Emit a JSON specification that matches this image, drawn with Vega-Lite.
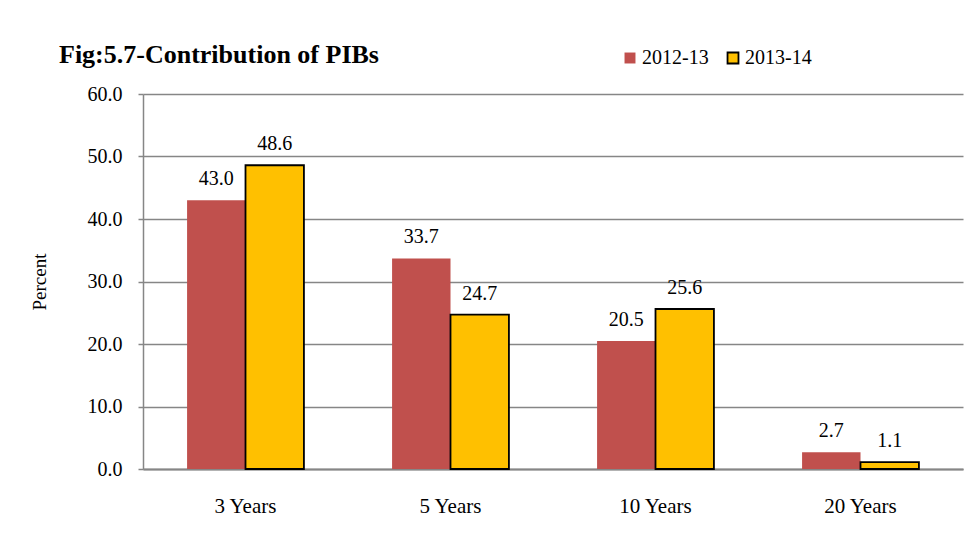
{
  "$schema": "https://vega.github.io/schema/vega-lite/v6.json",
  "autosize": {"type": "none"},
  "width": 820,
  "height": 375,
  "padding": {"left": 143, "top": 94, "right": 14, "bottom": 68},
  "background": "white",
  "title": {
    "text": "Fig:5.7-Contribution of PIBs",
    "anchor": "start",
    "frame": "group",
    "dx": -84,
    "dy": 50,
    "offset": 30,
    "font": "Liberation Serif",
    "fontSize": 26,
    "fontWeight": "bold",
    "color": "black"
  },
  "data": {
    "values": [
      {"tenure": "3 Years", "year": "2012-13", "value": 43.0},
      {"tenure": "3 Years", "year": "2013-14", "value": 48.6},
      {"tenure": "5 Years", "year": "2012-13", "value": 33.7},
      {"tenure": "5 Years", "year": "2013-14", "value": 24.7},
      {"tenure": "10 Years", "year": "2012-13", "value": 20.5},
      {"tenure": "10 Years", "year": "2013-14", "value": 25.6},
      {"tenure": "20 Years", "year": "2012-13", "value": 2.7},
      {"tenure": "20 Years", "year": "2013-14", "value": 1.1}
    ]
  },
  "encoding": {
    "x": {
      "field": "tenure",
      "type": "nominal",
      "sort": ["3 Years", "5 Years", "10 Years", "20 Years"],
      "scale": {"paddingInner": 0.43, "paddingOuter": 0.215},
      "axis": {
        "title": null,
        "labelAngle": 0,
        "labelFont": "Liberation Serif",
        "labelFontSize": 21,
        "labelFontWeight": "normal",
        "labelColor": "black",
        "labelPadding": 26,
        "ticks": false,
        "domainColor": "#868686",
        "domainWidth": 2
      }
    },
    "xOffset": {"field": "year", "type": "nominal", "sort": ["2012-13", "2013-14"]},
    "y": {
      "field": "value",
      "type": "quantitative",
      "scale": {"domain": [0, 60]},
      "axis": {
        "title": "Percent",
        "titleFont": "Liberation Serif",
        "titleFontSize": 19,
        "titleFontWeight": "normal",
        "titleColor": "black",
        "titlePadding": 38,
        "values": [0, 10, 20, 30, 40, 50, 60],
        "format": ".1f",
        "labelFont": "Liberation Serif",
        "labelFontSize": 20,
        "labelFontWeight": "normal",
        "labelColor": "black",
        "labelPadding": 16,
        "tickColor": "#868686",
        "tickSize": 5,
        "tickWidth": 1.5,
        "domainColor": "#868686",
        "domainWidth": 1.5,
        "grid": true,
        "gridColor": "#868686",
        "gridWidth": 1.5
      }
    }
  },
  "layer": [
    {
      "mark": {"type": "bar"},
      "encoding": {
        "color": {
          "field": "year",
          "type": "nominal",
          "scale": {"domain": ["2012-13", "2013-14"], "range": ["#C0504D", "#FFC000"]},
          "legend": {
            "title": null,
            "orient": "none",
            "direction": "horizontal",
            "legendX": 477,
            "legendY": -46,
            "symbolType": "square",
            "symbolSize": 120,
            "symbolStrokeColor": "black",
            "labelFont": "Liberation Serif",
            "labelFontSize": 20,
            "labelColor": "black",
            "labelOffset": 2,
            "columnPadding": 14
          }
        },
        "stroke": {
          "field": "year",
          "type": "nominal",
          "scale": {"domain": ["2012-13", "2013-14"], "range": ["#C0504D", "black"]},
          "legend": null
        },
        "strokeWidth": {
          "field": "year",
          "type": "nominal",
          "scale": {"domain": ["2012-13", "2013-14"], "range": [0, 1.8]},
          "legend": null
        }
      }
    },
    {
      "mark": {"type": "text", "dy": -21, "font": "Liberation Serif", "fontSize": 20, "fontWeight": "normal", "color": "black"},
      "encoding": {
        "text": {"field": "value", "type": "quantitative", "format": ".1f"}
      }
    }
  ],
  "config": {"font": "Liberation Serif", "view": {"stroke": null}}
}
